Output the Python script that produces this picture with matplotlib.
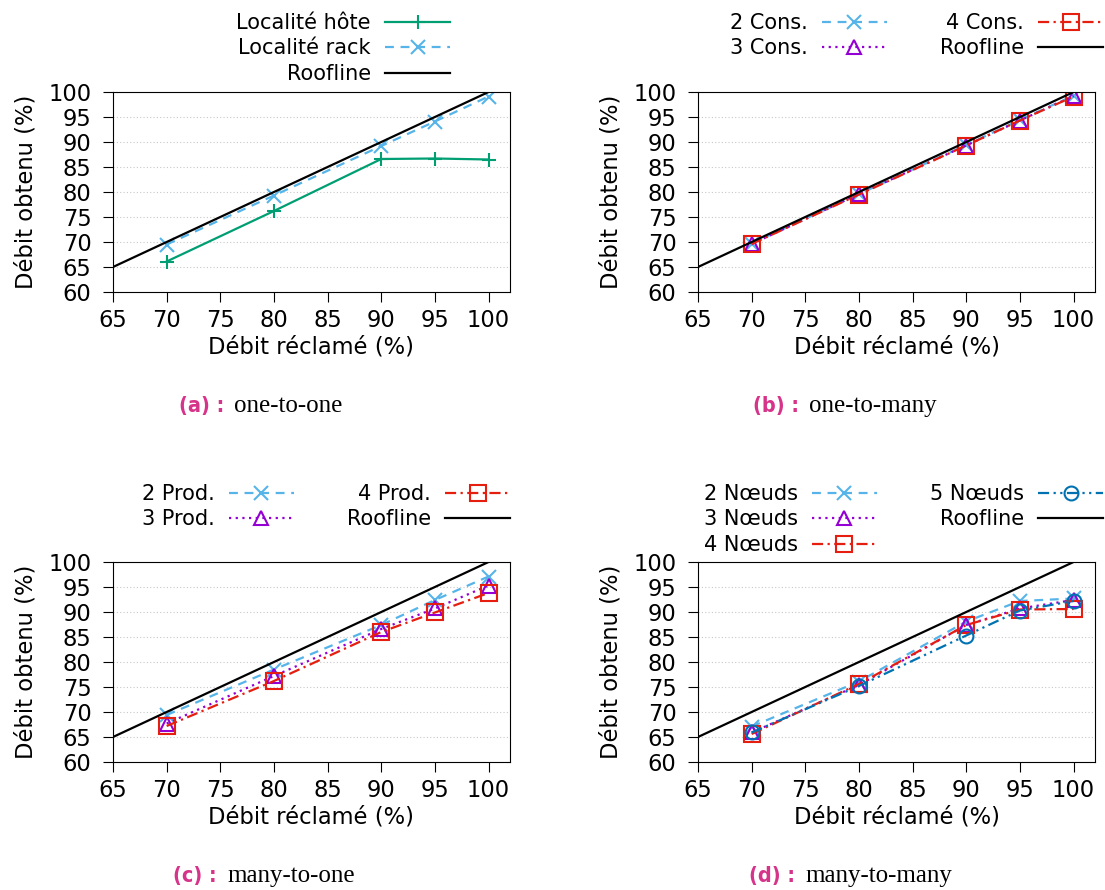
import matplotlib
matplotlib.use("Agg")
import matplotlib.pyplot as plt

W, H = 1105, 890
plt.rcParams['font.family'] = ['DejaVu Sans']

x = [70, 80, 90, 95, 100]
roof_x = [65, 100]

# (a) one-to-one
hote = [66.1, 76.2, 86.6, 86.7, 86.5]
rack = [69.5, 79.3, 89.2, 94.1, 99.1]

# (b) one-to-many
cons2 = [69.7, 79.6, 89.4, 94.4, 99.3]
cons3 = [69.6, 79.6, 89.3, 94.3, 99.2]
cons4 = [69.6, 79.5, 89.3, 94.3, 99.1]

# (c) many-to-one
prod2 = [69.4, 78.5, 87.4, 92.4, 97.1]
prod3 = [67.7, 77.2, 86.6, 90.7, 95.3]
prod4 = [67.2, 76.2, 86.0, 89.9, 93.8]

# (d) many-to-many
noeuds2 = [67.1, 76.1, 88.1, 92.2, 92.7]
noeuds3 = [65.9, 75.4, 87.4, 90.7, 92.4]
noeuds4 = [65.6, 75.6, 87.4, 90.5, 90.6]
noeuds5 = [65.9, 75.2, 85.3, 90.3, 92.2]

GREEN = '#009e73'
LBLUE = '#56b4e9'
PURPLE = '#9400d3'
RED = '#e51e10'
DBLUE = '#0072b2'
MAG = '#d6338a'

ls_dash = (0, (4, 3))
ls_dot = (0, (1, 2))
ls_dashdot = (0, (5, 2, 1, 2))
ls_dashdotdot = (0, (5, 2, 1, 2, 1, 2))

fs = 16.3
lfs = 15


def make_ax(left, top):
    ax = fig.add_axes([left / W, 1 - (top + 200) / H, 397 / W, 200 / H])
    ax.set_xlim(65, 102)
    ax.set_ylim(60, 100)
    ax.set_xticks(range(65, 101, 5))
    ax.set_yticks(range(60, 101, 5))
    ax.tick_params(labelsize=fs, direction='out', length=7.5, top=False, right=False)
    ax.tick_params(axis='x', pad=4.5)
    ax.tick_params(axis='y', pad=8)
    ax.yaxis.grid(True, linestyle=(0, (1, 2)), color='#c8c8c8', linewidth=0.8)
    ax.set_axisbelow(True)
    ax.set_xlabel('Débit réclamé (%)', fontsize=fs, labelpad=3)
    ax.set_ylabel('Débit obtenu (%)', fontsize=fs, labelpad=8)
    return ax


def roof(ax):
    ax.plot(roof_x, roof_x, color='black', lw=1.6, label='Roofline')


def caption(xc, y, tag, text):
    fig.text(xc / W, 1 - y / H, tag, color=MAG, fontsize=15.5, fontweight='bold',
             fontstretch='condensed', ha='right', va='center')
    fig.text((xc + 10) / W, 1 - y / H, text, fontsize=18, family='Liberation Serif',
             ha='left', va='center')


def legend(ax, handles, ncol, xr, top):
    ax.legend(handles=handles, loc='upper right', bbox_to_anchor=(xr / W, 1 - top / H),
              bbox_transform=fig.transFigure, frameon=False, markerfirst=False,
              fontsize=lfs, ncol=ncol, handlelength=3.1, handletextpad=0.7,
              labelspacing=0.26, columnspacing=2.55, borderpad=0, borderaxespad=0)


fig = plt.figure(figsize=(W / 100, H / 100), dpi=100)

mk = dict(markersize=10, markerfacecolor='none', markeredgewidth=1.5, lw=1.6)
mks = dict(mk, markersize=11)

# (a)
ax = make_ax(113, 92)
h1, = ax.plot(x, hote, color=GREEN, marker='+', label='Localité hôte', **mk)
h2, = ax.plot(x, rack, color=LBLUE, marker='x', linestyle=ls_dash, label='Localité rack', **mk)
roof(ax)
legend(ax, [h1, h2, ax.lines[-1]], 1, 450, 13)
caption(224, 406, '(a) :', 'one-to-one')

# (b)
ax = make_ax(698, 92)
h1, = ax.plot(x, cons2, color=LBLUE, marker='x', linestyle=ls_dash, label='2 Cons.', **mk)
h2, = ax.plot(x, cons3, color=PURPLE, marker='^', linestyle=ls_dot, label='3 Cons.', **mk)
h3, = ax.plot(x, cons4, color=RED, marker='s', linestyle=ls_dashdot, label='4 Cons.', **mks)
roof(ax)
legend(ax, [h1, h2, h3, ax.lines[-1]], 2, 1103, 13)
caption(799, 406, '(b) :', 'one-to-many')

# (c)
ax = make_ax(113, 562)
h1, = ax.plot(x, prod2, color=LBLUE, marker='x', linestyle=ls_dash, label='2 Prod.', **mk)
h2, = ax.plot(x, prod3, color=PURPLE, marker='^', linestyle=ls_dot, label='3 Prod.', **mk)
h3, = ax.plot(x, prod4, color=RED, marker='s', linestyle=ls_dashdot, label='4 Prod.', **mks)
roof(ax)
legend(ax, [h1, h2, h3, ax.lines[-1]], 2, 510, 484)
caption(217, 876, '(c) :', 'many-to-one')

# (d)
ax = make_ax(698, 562)
h1, = ax.plot(x, noeuds2, color=LBLUE, marker='x', linestyle=ls_dash, label='2 Nœuds', **mk)
h2, = ax.plot(x, noeuds3, color=PURPLE, marker='^', linestyle=ls_dot, label='3 Nœuds', **mk)
h3, = ax.plot(x, noeuds4, color=RED, marker='s', linestyle=ls_dashdot, label='4 Nœuds', **mks)
h4, = ax.plot(x, noeuds5, color=DBLUE, marker='o', linestyle=ls_dashdotdot, label='5 Nœuds', **mk)
roof(ax)
legend(ax, [h1, h2, h3, h4, ax.lines[-1]], 2, 1103, 484)
caption(795, 876, '(d) :', 'many-to-many')

fig.savefig('out.png', dpi=100)
